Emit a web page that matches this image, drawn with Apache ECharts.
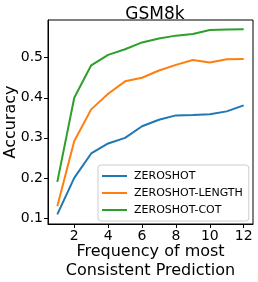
<!DOCTYPE html>
<html><head><meta charset="utf-8">
<script src="https://cdn.jsdelivr.net/npm/echarts@6/dist/echarts.min.js"></script>
<style>html,body{margin:0;padding:0;background:#fff}#c{width:258px;height:282px}</style>
</head><body><div id="c"></div>
<script>
const xValues = [1,2,3,4,5,6,7,8,9,10,11,12];
const zeroshot = [0.109,0.200,0.261,0.286,0.300,0.329,0.345,0.356,0.357,0.359,0.366,0.381];
const zeroshotLength = [0.129,0.292,0.371,0.410,0.441,0.450,0.468,0.482,0.494,0.488,0.496,0.497];
const zeroshotCot = [0.190,0.400,0.481,0.507,0.521,0.538,0.548,0.555,0.559,0.569,0.570,0.571];
const xTicks = [2,4,6,8,10,12];
const yTicks = [0.1,0.2,0.3,0.4,0.5];
const seriesNames = ['ZEROSHOT','ZEROSHOT-LENGTH','ZEROSHOT-COT'];
const colors = ['#1f77b4','#ff7f0e','#2ca02c'];

const font = 'DejaVu Sans';
const chart = echarts.init(document.getElementById('c'));
const mk = (name, vals, color) => ({
  name, type: 'line', data: xValues.map((x,i)=>[x, vals[i]]),
  showSymbol: false, symbol: 'none', lineStyle: {width: 2, color}, itemStyle: {color},
  animation: false
});
chart.setOption({
  animation: false,
  title: {text: 'GSM8k', left: 150, textAlign: 'center', top: 1,
    textStyle: {fontFamily: font, fontSize: 17, fontWeight: 'normal', color: '#000'}},
  grid: {left: 48, right: 5, top: 20, bottom: 58, show: true, borderColor: '#000', borderWidth: 1,
    containLabel: false, outerBoundsMode: 'none'},
  xAxis: {type: 'value', min: 0.45, max: 12.55,
    name: 'Frequency of most\nConsistent Prediction', nameLocation: 'middle', nameGap: 18,
    nameMoveOverlap: false,
    nameTextStyle: {fontFamily: font, fontSize: 16, color: '#000', lineHeight: 19, verticalAlign: 'top'},
    axisLine: {show: true, lineStyle: {color: '#000'}},
    axisTick: {show: true, length: 4, lineStyle: {color: '#000'}, customValues: xTicks},
    axisLabel: {fontFamily: font, fontSize: 14, color: '#000', margin: 5, customValues: xTicks},
    splitLine: {show: false}},
  yAxis: {type: 'value', min: 0.085, max: 0.594,
    name: 'Accuracy', nameLocation: 'middle', nameGap: 29, nameRotate: 90,
    nameMoveOverlap: false,
    nameTextStyle: {fontFamily: font, fontSize: 16, color: '#000'},
    axisLine: {show: true, lineStyle: {color: '#000'}},
    axisTick: {show: true, length: 4, lineStyle: {color: '#000'}, customValues: yTicks},
    axisLabel: {fontFamily: font, fontSize: 14, color: '#000', margin: 5, customValues: yTicks,
      formatter: v => v.toFixed(1)},
    splitLine: {show: false}},
  legend: {orient: 'vertical', left: 98, top: 165, data: seriesNames,
    backgroundColor: '#fff', borderColor: '#ccc', borderWidth: 1, borderRadius: 3,
    padding: [5, 6, 5, 4], itemGap: 5, itemWidth: 25, itemHeight: 2, icon: 'rect',
    textStyle: {fontFamily: font, fontSize: 11, color: '#000', padding: [0,0,0,2], height: 12, lineHeight: 12}},
  series: [mk(seriesNames[0], zeroshot, colors[0]), mk(seriesNames[1], zeroshotLength, colors[1]), mk(seriesNames[2], zeroshotCot, colors[2])]
});
</script></body></html>
